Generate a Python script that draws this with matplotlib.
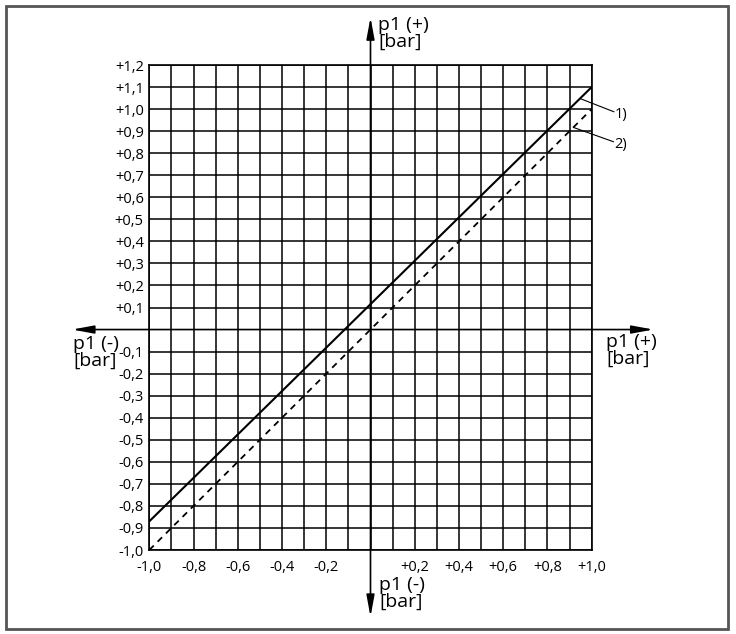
import matplotlib
matplotlib.use("Agg")
import matplotlib.pyplot as plt
from matplotlib.patches import Rectangle

plt.rcParams['font.family'] = ['Open Sans', 'DejaVu Sans']

# grid values and tick labels
x_ticks = [-1.0, -0.8, -0.6, -0.4, -0.2, 0.2, 0.4, 0.6, 0.8, 1.0]
x_labels = ['-1,0', '-0,8', '-0,6', '-0,4', '-0,2', '+0,2', '+0,4', '+0,6', '+0,8', '+1,0']
y_ticks = [1.2, 1.1, 1.0, 0.9, 0.8, 0.7, 0.6, 0.5, 0.4, 0.3, 0.2, 0.1,
           -0.1, -0.2, -0.3, -0.4, -0.5, -0.6, -0.7, -0.8, -0.9, -1.0]
y_labels = ['+1,2', '+1,1', '+1,0', '+0,9', '+0,8', '+0,7', '+0,6', '+0,5', '+0,4', '+0,3', '+0,2', '+0,1',
            '-0,1', '-0,2', '-0,3', '-0,4', '-0,5', '-0,6', '-0,7', '-0,8', '-0,9', '-1,0']
grid_x = [i / 10 for i in range(-10, 11)]

# characteristic lines
line1_x = [-1.0, 1.0]
line1_y = [-0.87, 1.10]
line2_x = [-1.0, 1.0]
line2_y = [-1.0, 1.0]

# callouts: label, point on line, end of leader
callouts = [('1)', (0.947, 1.048), (1.10, 0.988)),
            ('2)', (0.917, 0.917), (1.098, 0.852))]

W, H = 736, 634
fig = plt.figure(figsize=(W / 100, H / 100), dpi=100)
ax = fig.add_axes([149.3 / W, 1 - 550 / H, (591.7 - 149.3) / W, (550 - 65) / H])
ax.set_xlim(-1.0, 1.0)
ax.set_ylim(-1.0, 1.2)

ax.set_xticks(x_ticks)
ax.set_xticklabels(x_labels)
ax.set_xticks(grid_x, minor=True)
ax.set_yticks(y_ticks)
ax.set_yticklabels(y_labels)
ax.tick_params(which='both', length=0, labelsize=10.5)
ax.tick_params(axis='x', pad=7)
ax.tick_params(axis='y', pad=4)
ax.grid(True, which='both', color='black', lw=1.1)
ax.set_axisbelow(True)
for s in ax.spines.values():
    s.set_linewidth(1.2)

ax.plot(line1_x, line1_y, color='black', lw=1.5, solid_capstyle='butt', zorder=3)
ax.plot(line2_x, line2_y, color='black', lw=1.3, dashes=(3.5, 3), zorder=3)

for lab, p0, p1 in callouts:
    ax.plot([p0[0], p1[0]], [p0[1], p1[1]], color='black', lw=0.8, clip_on=False, zorder=3)
    ax.text(p1[0] + 0.005, p1[1] - 0.012, lab, fontsize=10.5, ha='left', va='center')

# main axes with arrows
arrow = '<|-|>,head_length=0.65,head_width=0.12'
ax.annotate('', xy=(-1.349, 0), xytext=(1.279, 0), annotation_clip=False,
            arrowprops=dict(arrowstyle=arrow, color='black', lw=1.2, mutation_scale=20,
                            shrinkA=0, shrinkB=0))
ax.annotate('', xy=(0, 1.416), xytext=(0, -1.303), annotation_clip=False,
            arrowprops=dict(arrowstyle=arrow, color='black', lw=1.2, mutation_scale=20,
                            shrinkA=0, shrinkB=0))

# axis titles (pixel positions of the top-left corner)
def label(px, py, txt):
    fig.text(px / W, 1 - py / H, txt, fontsize=14, ha='left', va='top', linespacing=0.9)

label(378, 16, 'p1 (+)\n[bar]')
label(73, 335, 'p1 (-)\n[bar]')
label(606, 333, 'p1 (+)\n[bar]')
label(379, 576, 'p1 (-)\n[bar]')

fig.patches.append(Rectangle((6 / W, 1 - 629 / H), 722 / W, 623 / H, transform=fig.transFigure,
                             fill=False, edgecolor='#555555', lw=2))

fig.savefig('out.png', dpi=100)
